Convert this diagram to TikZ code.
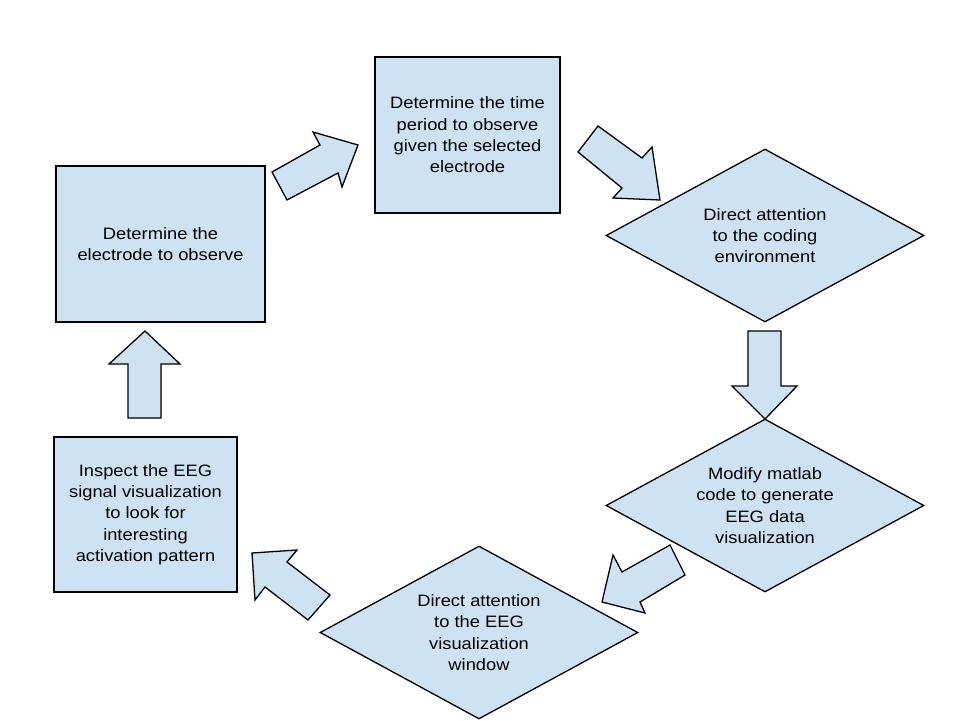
\documentclass[tikz,border=0pt]{standalone}
\usepackage{fontspec}
\setmainfont{Liberation Sans}[FakeStretch=1.11]
\usetikzlibrary{shapes.geometric}
\definecolor{boxfill}{HTML}{CFE2F3}
\begin{document}
\begin{tikzpicture}[x=1pt,y=-1pt,
  every node/.style={font=\fontsize{16.5}{21.3}\selectfont, align=center, text=black},
  box/.style={draw=black, line width=1.3pt, fill=boxfill, rectangle, inner sep=0pt},
  dia/.style={draw=black, line width=1.3pt, fill=boxfill, diamond, inner sep=0pt, minimum width=318pt, minimum height=173pt},
  blockarrow/.style={draw=black, line width=1.3pt, fill=boxfill, line join=miter}]
\useasboundingbox (0,0) rectangle (960,720);
\fill[white] (0,0) rectangle (960,720);

\node[box, minimum width=209pt, minimum height=156pt] (electrode) at (160.5,244) {Determine the\\electrode to observe};
\node[box, minimum width=185pt, minimum height=156pt] (period) at (467.5,135) {Determine the time\\period to observe\\given the selected\\electrode};
\node[dia] (coding) at (765,235.5) {};
\node (codingtext) at (coding.center) {Direct attention\\to the coding\\environment};
\node[dia] (modify) at (765,505.5) {};
\node (modifytext) at (modify.center) {Modify matlab\\code to generate\\EEG data\\visualization};
\node[dia] (window) at (479,632.5) {};
\node (windowtext) at (window.center) {Direct attention\\to the EEG\\visualization\\window};
\node[box, minimum width=183pt, minimum height=155pt] (inspect) at (145.5,514.5) {Inspect the EEG\\signal visualization\\to look for\\interesting\\activation pattern};

% block arrows
\draw[blockarrow] (272,172) -- (320,145) -- (313,132) -- (358,145) -- (342,187) -- (338,173) -- (287,200) -- cycle;
\draw[blockarrow] (578,152) -- (598,126) -- (642,158) -- (652,147) -- (660,200) -- (613,198) -- (622,188) -- cycle;
\draw[blockarrow] (748,331) -- (781,331) -- (781,386) -- (797,386) -- (765,419) -- (732,386) -- (748,386) -- cycle;
\draw[blockarrow] (670,545) -- (685,575) -- (640,602) -- (645,613) -- (602,602) -- (613,555) -- (622,572) -- cycle;
\draw[blockarrow] (252,553) -- (297,550) -- (287,562) -- (330,595) -- (308,620) -- (265,587) -- (255,600) -- cycle;
\draw[blockarrow] (128,418) -- (161,418) -- (161,364) -- (180,364) -- (145,331) -- (109,364) -- (128,364) -- cycle;
\end{tikzpicture}
\end{document}
